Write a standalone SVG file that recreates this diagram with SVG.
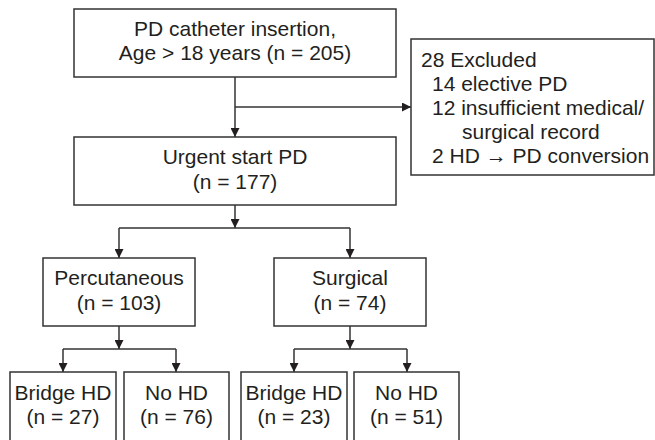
<svg xmlns="http://www.w3.org/2000/svg" width="655" height="440" viewBox="0 0 655 440">
  <defs>
    <style>
      .box { fill: #ffffff; stroke: #333333; stroke-width: 1.5; }
      .t { font-family: "Liberation Sans", Arial, Helvetica, sans-serif; font-size: 21px; fill: #231f20; }
      .c { text-anchor: middle; }
      .ln { fill: none; stroke: #333333; stroke-width: 1.5; }
    </style>
    <marker id="ah" viewBox="0 0 10 10" refX="10" refY="5" markerWidth="6" markerHeight="6" markerUnits="strokeWidth" orient="auto">
      <path d="M0,0 L10,5 L0,10 z" fill="#231f20"/>
    </marker>
  </defs>
  <rect width="655" height="440" fill="#ffffff"/>

  <g id="connectors">
    <path class="ln" d="M235,77 V137" marker-end="url(#ah)"/>
    <path class="ln" d="M235,107 H411" marker-end="url(#ah)"/>
    <path class="ln" d="M235,205 V228" marker-end="url(#ah)"/>
    <path class="ln" d="M119,228 H350"/>
    <path class="ln" d="M119,228 V258" marker-end="url(#ah)"/>
    <path class="ln" d="M350,228 V258" marker-end="url(#ah)"/>
    <path class="ln" d="M119,326 V349" marker-end="url(#ah)"/>
    <path class="ln" d="M63,349 H176"/>
    <path class="ln" d="M63,349 V372" marker-end="url(#ah)"/>
    <path class="ln" d="M176,349 V372" marker-end="url(#ah)"/>
    <path class="ln" d="M350,326 V349" marker-end="url(#ah)"/>
    <path class="ln" d="M294,349 H407"/>
    <path class="ln" d="M294,349 V372" marker-end="url(#ah)"/>
    <path class="ln" d="M407,349 V372" marker-end="url(#ah)"/>
  </g>

  <g id="insertion">
    <rect class="box" x="74" y="9" width="322" height="68"/>
    <text class="t c" x="235" y="36">PD catheter insertion,</text>
    <text class="t c" x="235" y="60">Age &gt; 18 years (n = 205)</text>
  </g>

  <g id="excluded">
    <rect class="box" x="411" y="39" width="243" height="136"/>
    <text class="t" x="421" y="67">28 Excluded</text>
    <text class="t" x="432" y="91">14 elective PD</text>
    <text class="t" x="432" y="115">12 insufficient medical/</text>
    <text class="t" x="462" y="139">surgical record</text>
    <text class="t" x="432" y="163">2 HD → PD conversion</text>
  </g>

  <g id="urgent">
    <rect class="box" x="74" y="137" width="322" height="68"/>
    <text class="t c" x="235" y="164">Urgent start PD</text>
    <text class="t c" x="235" y="189">(n = 177)</text>
  </g>

  <g id="percutaneous">
    <rect class="box" x="43" y="258" width="152" height="68"/>
    <text class="t c" x="119" y="285">Percutaneous</text>
    <text class="t c" x="119" y="310">(n = 103)</text>
  </g>

  <g id="surgical">
    <rect class="box" x="274" y="258" width="152" height="68"/>
    <text class="t c" x="350" y="285">Surgical</text>
    <text class="t c" x="350" y="310">(n = 74)</text>
  </g>

  <g id="perc-bridge">
    <rect class="box" x="10" y="372" width="106" height="80"/>
    <text class="t c" x="63" y="400">Bridge HD</text>
    <text class="t c" x="63" y="424">(n = 27)</text>
  </g>

  <g id="perc-nohd">
    <rect class="box" x="124" y="372" width="105" height="80"/>
    <text class="t c" x="176.5" y="400">No HD</text>
    <text class="t c" x="176.5" y="424">(n = 76)</text>
  </g>

  <g id="surg-bridge">
    <rect class="box" x="241" y="372" width="106" height="80"/>
    <text class="t c" x="294" y="400">Bridge HD</text>
    <text class="t c" x="294" y="424">(n = 23)</text>
  </g>

  <g id="surg-nohd">
    <rect class="box" x="354" y="372" width="105" height="80"/>
    <text class="t c" x="406.5" y="400">No HD</text>
    <text class="t c" x="406.5" y="424">(n = 51)</text>
  </g>
</svg>
